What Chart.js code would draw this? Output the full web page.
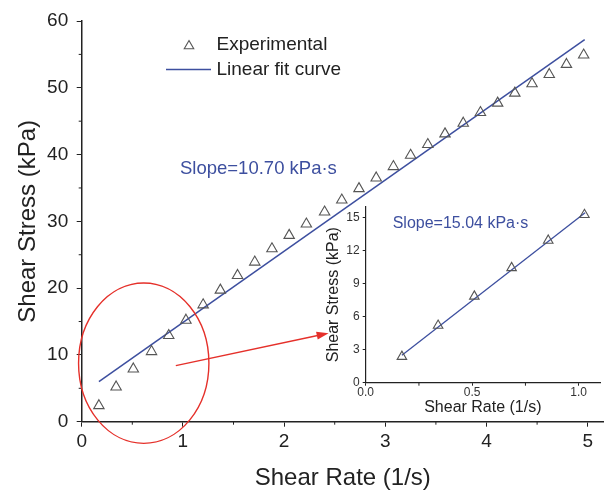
<!DOCTYPE html>
<html>
<head>
<meta charset="utf-8">
<script src="https://cdn.jsdelivr.net/npm/chart.js@4.4.1/dist/chart.umd.min.js"></script>
<style>
  html, body { margin: 0; padding: 0; background: #fff; }
  #wrap { position: relative; width: 611px; height: 490px; }
  #mainChart { position: absolute; left: 0; top: 0; }
  #insetChart { position: absolute; left: 300px; top: 190px; }
</style>
</head>
<body>
<div id="wrap">
  <canvas id="mainChart" width="611" height="490"></canvas>
  <canvas id="insetChart" width="311" height="232"></canvas>
</div>
<script>
// main plot data
const mainRate = [0.17, 0.34, 0.51, 0.69, 0.86, 1.03, 1.20, 1.37, 1.54, 1.71, 1.88, 2.05, 2.22, 2.40, 2.57,
  2.74, 2.91, 3.08, 3.25, 3.42, 3.59, 3.77, 3.94, 4.11, 4.28, 4.45, 4.62, 4.79, 4.96];
const mainStress = [2.4, 5.2, 7.9, 10.5, 12.9, 15.2, 17.5, 19.7, 21.9, 23.9, 25.9, 27.9, 29.6, 31.4, 33.2,
  34.9, 36.5, 38.2, 39.9, 41.5, 43.1, 44.7, 46.3, 47.7, 49.2, 50.6, 52.0, 53.5, 54.9];
const mainFitRate = [0.17, 4.97];
const mainFitStress = [6.0, 57.2];
const mainXTicks = [0, 1, 2, 3, 4, 5];
const mainYTicks = [0, 10, 20, 30, 40, 50, 60];
const mainXMinor = [0.5, 1.5, 2.5, 3.5, 4.5];
const mainYMinor = [5, 15, 25, 35, 45, 55];

// inset (first six points)
const insetRate = [0.17, 0.34, 0.51, 0.685, 0.857, 1.027];
const insetStress = [2.37, 5.2, 7.85, 10.44, 12.93, 15.27];
const insetFitRate = [0.17, 1.03];
const insetFitStress = [2.5, 15.45];
const insetXTicks = [0, 0.5, 1.0];
const insetYTicks = [0, 3, 6, 9, 12, 15];
const insetXMinor = [0.25, 0.75];

const seriesLabels = ['Experimental', 'Linear fit curve'];
const slopeMain = 'Slope=10.70 kPa\u00b7s';
const slopeInset = 'Slope=15.04 kPa\u00b7s';

const FONT = '"Liberation Sans", Arial, sans-serif';
const BLUE = '#3d4f9f';
const INK = '#222';

function pts(xs, ys){ return xs.map((x, i) => ({x: x, y: ys[i]})); }

function fixTicks(list){
  return function(scale){ scale.ticks = list.map(v => ({value: v})); };
}

// short minor ticks drawn outside the axes
function drawMinor(chart, xs, ys, len){
  const ctx = chart.ctx, sx = chart.scales.x, sy = chart.scales.y;
  ctx.save();
  ctx.strokeStyle = INK;
  ctx.lineWidth = 1;
  ctx.beginPath();
  xs.forEach(v => {
    const p = sx.getPixelForValue(v);
    ctx.moveTo(p, sx.top); ctx.lineTo(p, sx.top + len);
  });
  ys.forEach(v => {
    const p = sy.getPixelForValue(v);
    ctx.moveTo(sy.right, p); ctx.lineTo(sy.right - len, p);
  });
  ctx.stroke();
  ctx.restore();
}

function triangle(ctx, x, y, r){
  ctx.beginPath();
  for (let k = 0; k < 3; k++) {
    const a = k * 2 * Math.PI / 3;
    const px = x + Math.sin(a) * r, py = y - Math.cos(a) * r;
    if (k === 0) ctx.moveTo(px, py); else ctx.lineTo(px, py);
  }
  ctx.closePath();
  ctx.stroke();
}

const mainExtras = {
  id: 'mainExtras',
  afterDraw(chart){
    const ctx = chart.ctx, sx = chart.scales.x, sy = chart.scales.y;
    drawMinor(chart, mainXMinor, mainYMinor, 3);

    // legend
    ctx.save();
    ctx.strokeStyle = '#555';
    ctx.lineWidth = 1.1;
    triangle(ctx, 189, 46, 5.5);
    ctx.strokeStyle = BLUE;
    ctx.lineWidth = 1.5;
    ctx.beginPath(); ctx.moveTo(166, 69.5); ctx.lineTo(211, 69.5); ctx.stroke();
    ctx.fillStyle = INK;
    ctx.font = '19px ' + FONT;
    ctx.textBaseline = 'middle';
    ctx.fillText(seriesLabels[0], 216.5, 45);
    ctx.fillText(seriesLabels[1], 216.5, 69.5);

    // slope label
    ctx.fillStyle = BLUE;
    ctx.font = '18.5px ' + FONT;
    ctx.fillText(slopeMain, 180, 169);

    // red ellipse around the low-rate points
    const cx = sx.getPixelForValue(0.613), cy = sy.getPixelForValue(8.76);
    const rx = sx.getPixelForValue(0.644) - sx.getPixelForValue(0);
    const ry = sy.getPixelForValue(0) - sy.getPixelForValue(12.0);
    ctx.strokeStyle = '#e5302a';
    ctx.lineWidth = 1.4;
    ctx.beginPath(); ctx.ellipse(cx, cy, rx, ry, 0, 0, 2 * Math.PI); ctx.stroke();

    // arrow to the inset
    const x0 = sx.getPixelForValue(0.93), y0 = sy.getPixelForValue(8.4);
    const x1 = sx.getPixelForValue(2.44), y1 = sy.getPixelForValue(13.26);
    const ang = Math.atan2(y1 - y0, x1 - x0);
    ctx.beginPath(); ctx.moveTo(x0, y0);
    ctx.lineTo(x1 - 10 * Math.cos(ang), y1 - 10 * Math.sin(ang)); ctx.stroke();
    ctx.fillStyle = '#e5302a';
    ctx.beginPath();
    ctx.moveTo(x1, y1);
    ctx.lineTo(x1 - 12 * Math.cos(ang) + 4 * Math.sin(ang), y1 - 12 * Math.sin(ang) - 4 * Math.cos(ang));
    ctx.lineTo(x1 - 12 * Math.cos(ang) - 4 * Math.sin(ang), y1 - 12 * Math.sin(ang) + 4 * Math.cos(ang));
    ctx.closePath(); ctx.fill();
    ctx.restore();
  }
};

const insetExtras = {
  id: 'insetExtras',
  afterDraw(chart){
    drawMinor(chart, insetXMinor, [], 3);
    const ctx = chart.ctx;
    ctx.save();
    ctx.fillStyle = BLUE;
    ctx.font = '16px ' + FONT;
    ctx.textBaseline = 'middle';
    ctx.fillText(slopeInset, 92.7, 33.3);
    ctx.restore();
  }
};

function axis(opts){
  return {
    type: 'linear',
    min: opts.min, max: opts.max,
    afterBuildTicks: fixTicks(opts.ticks),
    afterFit: opts.fit,
    border: { color: INK, width: opts.bw },
    grid: { drawOnChartArea: false, tickLength: opts.tl, color: INK, tickWidth: 1 },
    ticks: {
      color: opts.tc, padding: opts.pad,
      font: { family: FONT, size: opts.fs },
      callback: opts.fmt
    },
    title: {
      display: true, text: opts.title, color: INK,
      font: { family: FONT, size: opts.ts, lineHeight: 1 },
      padding: opts.tpad
    }
  };
}

new Chart(document.getElementById('mainChart'), {
  type: 'scatter',
  data: {
    datasets: [
      { label: seriesLabels[0], data: pts(mainRate, mainStress), pointStyle: 'triangle',
        pointRadius: 6, borderColor: '#555', borderWidth: 1.1, backgroundColor: 'rgba(255,255,255,0)', showLine: false },
      { label: seriesLabels[1], data: pts(mainFitRate, mainFitStress), showLine: true,
        pointRadius: 0, borderColor: BLUE, borderWidth: 1.5, fill: false }
    ]
  },
  options: {
    responsive: false, animation: false, devicePixelRatio: 1,
    layout: { padding: { top: 21, right: 0, left: 0, bottom: 0 } },
    plugins: { legend: { display: false }, tooltip: { enabled: false } },
    scales: {
      x: axis({ min: 0, max: 5.16, ticks: mainXTicks, fit: s => { s.height = 68.3; },
        bw: 1.5, tl: 5, tc: INK, pad: 4, fs: 19, fmt: v => String(v),
        title: 'Shear Rate (1/s)', ts: 24, tpad: { top: 0, bottom: 0 } }),
      y: axis({ min: 0, max: 60, ticks: mainYTicks, fit: s => { s.width = 81.7; },
        bw: 1.5, tl: 5, tc: INK, pad: 8.5, fs: 19, fmt: v => String(v),
        title: 'Shear Stress (kPa)', ts: 24, tpad: { top: 16, bottom: 0 } })
    }
  },
  plugins: [mainExtras]
});

new Chart(document.getElementById('insetChart'), {
  type: 'scatter',
  data: {
    datasets: [
      { label: seriesLabels[0], data: pts(insetRate, insetStress), pointStyle: 'triangle',
        pointRadius: 5.5, borderColor: '#555', borderWidth: 1.1, backgroundColor: 'rgba(255,255,255,0)', showLine: false },
      { label: seriesLabels[1], data: pts(insetFitRate, insetFitStress), showLine: true,
        pointRadius: 0, borderColor: BLUE, borderWidth: 1.3, fill: false }
    ]
  },
  options: {
    responsive: false, animation: false, devicePixelRatio: 1,
    layout: { padding: { top: 16.7, right: 11, left: 0, bottom: 0 } },
    plugins: { legend: { display: false }, tooltip: { enabled: false } },
    scales: {
      x: axis({ min: 0, max: 1.1, ticks: insetXTicks, fit: s => { s.height = 39.3; },
        bw: 1.2, tl: 3, tc: '#333', pad: 0, fs: 12, fmt: v => v.toFixed(1),
        title: 'Shear Rate (1/s)', ts: 16, tpad: { top: 0, bottom: 6 } }),
      y: axis({ min: 0, max: 16, ticks: insetYTicks, fit: s => { s.width = 65.7; },
        bw: 1.2, tl: 3, tc: '#333', pad: 3, fs: 12, fmt: v => String(v),
        title: 'Shear Stress (kPa)', ts: 16, tpad: { top: 26, bottom: 0 } })
    }
  },
  plugins: [insetExtras]
});
</script>
</body>
</html>
